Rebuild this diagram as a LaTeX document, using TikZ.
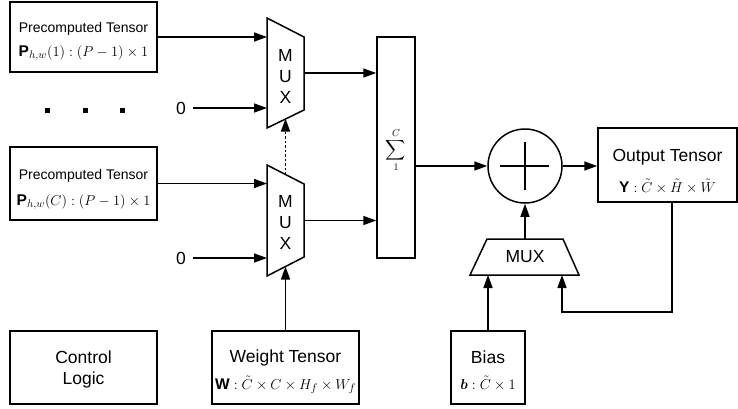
\documentclass[tikz,border=0pt]{standalone}
\usepackage{amsmath,amssymb}
\usepackage{fontspec}
\setmainfont{Liberation Sans}
\usetikzlibrary{arrows.meta}
\tikzset{
  box/.style={draw, line width=1.5pt, inner sep=0pt},
  conn/.style={line width=1.5pt, -{Triangle[length=13pt,width=9pt]}},
  dconn/.style={conn, dash pattern=on 2.5pt off 2pt},
  plain/.style={line width=1.5pt},
  lbl/.style={font=\fontsize{17.5}{21}\selectfont, inner sep=0pt, align=center},
  small/.style={font=\fontsize{14}{16}\selectfont, inner sep=0pt},
  fml/.style={font=\fontsize{15.5}{17}\selectfont, inner sep=0pt},
  zero/.style={lbl, outer xsep=7pt},
  dotsq/.style={fill=black, minimum size=5pt, inner sep=0pt},
}
\begin{document}
\begin{tikzpicture}[x=1pt,y=-1pt]
\useasboundingbox (0,0) rectangle (738,408);

% Precomputed tensor boxes
\node[box, minimum width=147pt, minimum height=70pt] (p1) at (83.5,37) {};
\node[small] (p1t) at (83.5,29) {Precomputed Tensor};
\node[fml] (p1f) at (83.5,53) {$\textbf{P}_{h,w}(1):(P-1)\times 1$};

\node[box, minimum width=147pt, minimum height=73pt] (pC) at (83.5,183.5) {};
\node[small] (pCt) at (83.5,176) {Precomputed Tensor};
\node[fml] (pCf) at (83.5,202) {$\textbf{P}_{h,w}(C):(P-1)\times 1$};

% dots
\node[dotsq] (d1) at (47,110) {};
\node[dotsq] (d2) at (85,110) {};
\node[dotsq] (d3) at (122,110) {};

% zeros
\node[zero] (z1) at (181,108) {0};
\node[zero] (z2) at (181,258) {0};

% MUX 1
\draw[plain] (267,18) -- (304,37) -- (304,110) -- (267,128) -- cycle;
\coordinate (m1a) at (267,37);
\coordinate (m1b) at (267,108);
\coordinate (m1o) at (304,73);
\coordinate (m1bot) at (285.5,118.5);
\node[lbl] (m1l) at (285.5,76) {M\\U\\X};

% MUX 2
\draw[plain] (267,165) -- (304,184) -- (304,257) -- (267,276) -- cycle;
\coordinate (m2a) at (267,183.5);
\coordinate (m2b) at (267,258);
\coordinate (m2o) at (304,220.5);
\coordinate (m2top) at (285.5,174.5);
\coordinate (m2bot) at (285.5,266.5);
\node[lbl] (m2l) at (285.5,222) {M\\U\\X};

% Sigma box
\node[box, minimum width=38pt, minimum height=221pt] (sg) at (396,147.5) {};
\node[font=\fontsize{14}{16}\selectfont, inner sep=0pt] (sgl) at (396,150) {$\displaystyle\sum_{1}^{C}$};

% adder
\node[draw, circle, line width=1.5pt, minimum size=74pt, inner sep=0pt] (cp) at (525,166) {};
\draw[plain] (500,166) -- (549,166);
\draw[plain] (525,142) -- (525,190);

% Output tensor
\node[box, minimum width=139pt, minimum height=74pt] (out) at (667.5,165) {};
\node[lbl] (outt) at (667.5,157) {Output Tensor};
\node[fml] (outf) at (667.5,186) {$\textbf{Y}:\tilde{C}\times\tilde{H}\times\tilde{W}$};

% Bias MUX
\draw[plain] (487,239) -- (563,239) -- (579,275) -- (470,275) -- cycle;
\coordinate (bmt) at (525,239);
\coordinate (bml) at (488,275);
\coordinate (bmr) at (562,275);
\node[lbl] (bml2) at (525,257) {MUX};

% Bottom boxes
\node[box, minimum width=147pt, minimum height=73pt] (cl) at (83.5,367.5) {};
\node[lbl] (clt) at (83.5,369) {Control\\Logic};

\node[box, minimum width=147pt, minimum height=73pt] (wt) at (285.5,367.5) {};
\node[lbl] (wtt) at (285.5,358) {Weight Tensor};
\node[fml] (wtf) at (285.5,385) {$\textbf{W}:\tilde{C}\times C\times H_f\times W_f$};

\node[box, minimum width=74pt, minimum height=73pt] (bias) at (488,367.5) {};
\node[lbl] (biast) at (488,357) {Bias};
\node[fml] (biasf) at (488,383) {$\boldsymbol{b}:\tilde{C}\times 1$};

\coordinate (fb) at (672,312);

% connectors
\draw[conn] (p1.east) -- (m1a);
\draw[conn] (z1.east) -- (m1b);
\draw[conn] (pC.east) -- (m2a);
\draw[conn] (z2.east) -- (m2b);
\draw[dconn] (m2top) -- (m1bot);
\draw[conn] (wt.north) -- (m2bot);
\draw[conn] (m1o) -- (m1o -| sg.west);
\draw[conn] (m2o) -- (m2o -| sg.west);
\draw[conn] (sg.east |- cp) -- (cp.west);
\draw[conn] (cp.east) -- (cp.east -| out.west);
\draw[conn] (bmt) -- (cp.south);
\draw[conn] (bias.north) -- (bml);
\draw[conn] (out.south -| fb) -- (fb) -| (bmr);
\end{tikzpicture}
\end{document}
